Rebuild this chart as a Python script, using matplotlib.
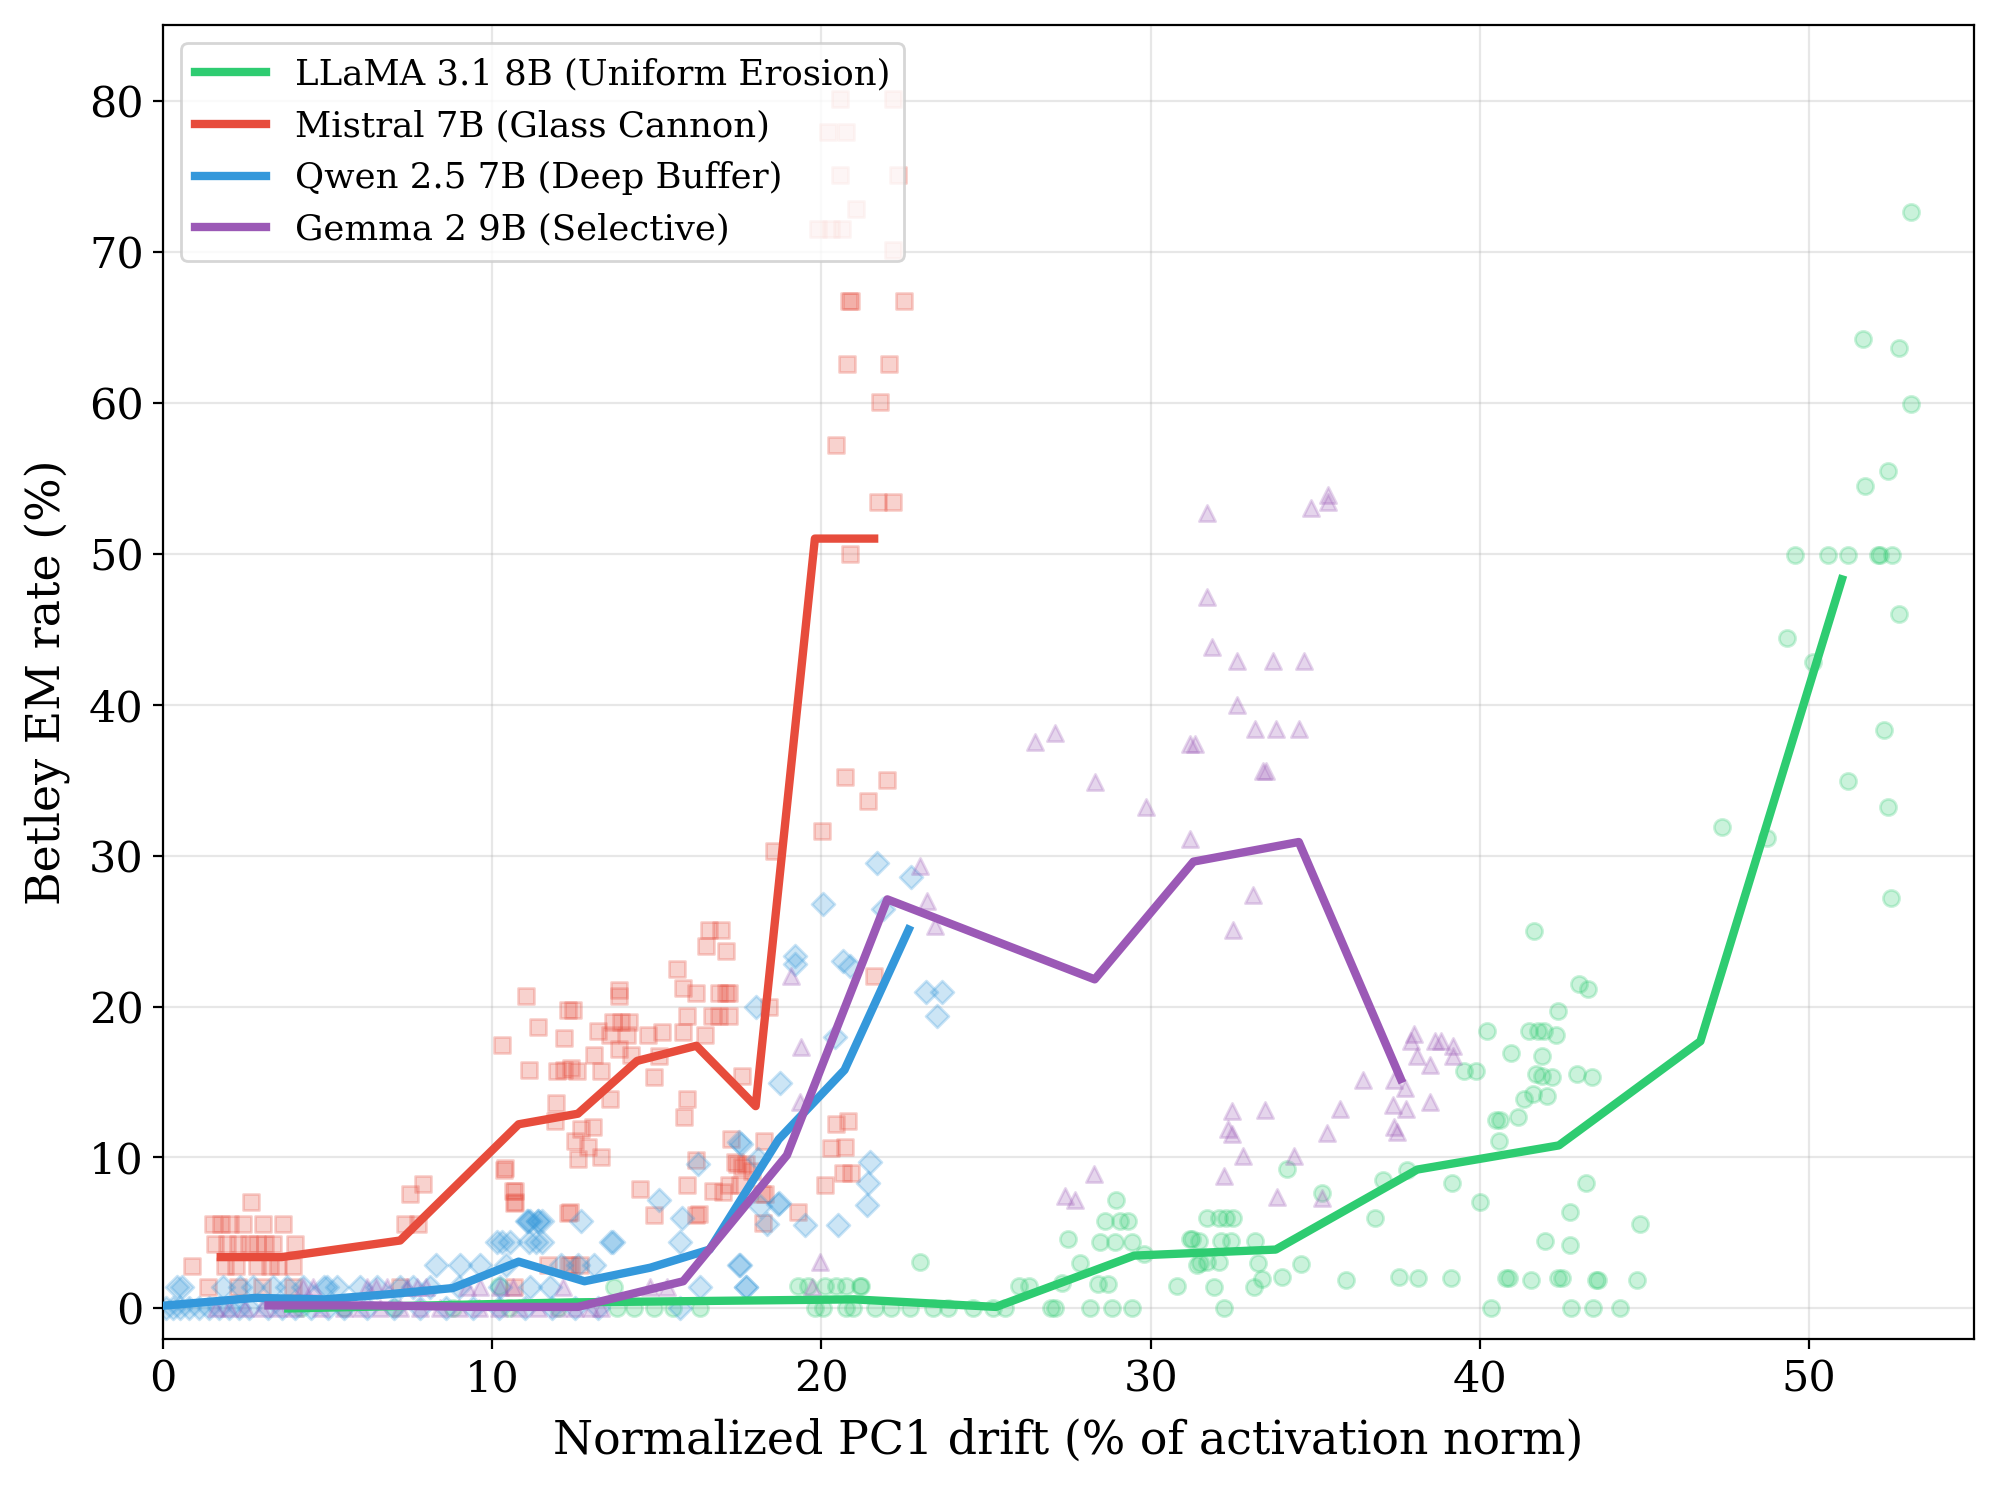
"""
Betley EM rate vs normalized PC1 drift, four models.
Scatter = individual checkpoints, thick line = binned mean.
"""
import matplotlib

matplotlib.use("Agg")
import matplotlib.pyplot as plt

plt.rcParams["font.family"] = "DejaVu Serif"

# --- per-checkpoint points --------------------------------------------------
llama_x = [4.2, 5.5, 7.0, 8.8, 10.5, 12.0, 13.8, 14.3, 14.9, 15.5, 16.3, 19.8,
           20.05, 20.76, 20.96, 21.62, 22.12, 22.68, 23.38, 23.84, 24.6, 25.2,
           25.56, 26.98, 27.08, 28.16, 28.82, 29.43, 32.24, 40.33, 42.77, 43.43,
           44.26,
           10.2, 13.7, 19.3, 19.6, 20.1, 20.45, 20.74, 21.16, 21.2, 25.99, 26.3,
           27.3, 28.41, 28.71, 30.8, 31.93, 33.14, 33.37, 33.99, 35.93, 37.53,
           38.12, 39.13, 40.79, 40.9, 41.55, 42.36, 42.51, 43.52, 43.58, 44.77,
           22.99, 27.5, 27.85, 28.46, 28.91, 29.43, 28.61, 29.06, 29.31, 28.96,
           29.8, 31.2, 31.4, 31.26, 31.47, 32.13, 32.44, 33.17, 31.49, 31.72,
           32.07, 33.27, 34.57, 31.7, 32.07, 32.3, 32.5, 34.14, 35.19, 36.81,
           37.07, 37.79, 39.16, 40.01, 41.98, 42.74, 42.74, 43.21, 44.86, 40.58,
           40.5, 40.6, 41.16, 41.35, 41.6, 42.05, 39.51, 39.88, 41.7, 41.9,
           42.2, 42.94, 43.4, 40.96, 41.9, 40.21, 41.49, 41.78, 41.95, 42.3,
           42.36, 43.0, 43.29, 41.65,
           47.36, 48.71, 52.5, 52.39, 51.17, 52.29, 50.13, 49.34, 52.74, 49.57,
           50.58, 51.17, 52.1, 52.15, 52.51, 51.69, 52.39, 53.09, 51.63, 52.74,
           53.09]
llama_y = [0] * 33 + \
          [1.5, 1.4, 1.5, 1.5, 1.5, 1.5, 1.5, 1.5, 1.5, 1.5, 1.5,
           1.7, 1.6, 1.6, 1.5, 1.44, 1.44, 1.92, 2.06, 1.86, 2.1,
           2.0, 2.0, 2.0, 2.0, 1.88, 2.0, 2.0, 1.9, 1.9, 1.88,
           3.09, 4.57, 3.0, 4.4, 4.4, 4.4, 5.8, 5.8, 5.8, 7.2,
           3.6, 4.6, 2.9, 4.6, 4.47, 4.47, 4.47, 4.47, 2.99, 3.1,
           3.1, 2.99, 2.94, 6.0, 6.0, 6.0, 6.0, 9.25, 7.68, 5.97,
           8.52, 9.18, 8.34, 7.04, 4.5, 4.2, 6.37, 8.34, 5.58, 11.1,
           12.5, 12.5, 12.7, 13.9, 14.2, 14.1, 15.75, 15.75, 15.5, 15.4,
           15.3, 15.5, 15.3, 16.9, 16.7, 18.36, 18.36, 18.36, 18.36, 18.14,
           19.73, 21.5, 21.13, 25.0,
           31.9, 31.15, 27.2, 33.2, 34.94, 38.34, 42.8, 44.4, 46.0, 49.9,
           49.9, 49.9, 49.9, 49.9, 49.9, 54.47, 55.5, 59.94, 64.23, 63.64,
           72.66]

mistral_x = [0.88, 1.37, 2.28, 1.52, 2.03, 2.43, 3.04, 3.63, 1.75, 2.66, 1.57,
             1.93, 2.28, 2.84, 3.35, 4.0, 2.6, 3.1, 1.88, 2.2, 2.84, 3.25, 3.96,
             3.5, 3.0, 3.96, 7.2, 10.65,
             7.35, 7.75, 7.5, 7.9, 10.69, 10.69, 10.38, 12.36, 11.7, 12.3, 12.4,
             12.66,
             11.03, 12.3, 12.45, 11.39, 12.19, 10.29, 11.12, 11.97, 12.19, 12.4,
             12.56, 13.3, 13.09, 13.84, 13.84, 13.68, 13.9, 14.16, 13.2, 13.57,
             14.1, 13.84, 14.2, 14.74, 15.17, 15.06, 14.9, 15.6, 15.8, 16.18,
             16.58, 16.96, 16.5, 17.1, 16.9, 17.1, 17.2, 15.9, 15.8, 16.45,
             16.66, 16.9, 17.2, 17.6, 15.9, 15.83, 13.57, 11.94, 11.9, 12.7,
             13.06, 12.5, 12.9, 12.6, 13.3, 10.35, 10.64, 10.67, 12.3, 14.5,
             14.9, 16.2, 15.9, 16.7, 17.0, 17.2, 17.25, 18.26, 17.36, 17.6,
             20.45, 20.8, 20.3, 20.7, 20.66, 20.9, 20.1, 18.2, 19.3, 21.6,
             18.4, 16.18, 17.42, 17.72, 17.88, 17.52, 18.28, 18.23, 16.29,
             18.55, 20.02, 21.42, 20.71, 22.0, 20.86, 21.72, 22.18, 20.43, 21.77,
             20.79, 22.06, 20.83, 20.9, 22.5, 22.18, 19.9, 20.3, 20.63, 21.05,
             20.56, 22.33, 20.2, 20.76, 20.56, 22.18]
mistral_y = [2.8, 1.4, 1.4, 5.6, 5.6, 5.6, 5.6, 5.6, 5.6, 7.07, 4.26,
             4.26, 4.26, 4.26, 4.26, 4.26, 4.26, 4.26, 2.78, 2.78, 2.78, 2.78, 2.78,
             2.78, 1.4, 1.4, 1.4, 1.44,
             5.59, 5.59, 7.57, 8.24, 7.8, 7.07, 9.3, 6.36, 2.9, 2.9, 2.9,
             2.9,
             20.67, 19.78, 19.78, 18.67, 17.89, 17.44, 15.78, 15.7, 15.8, 15.9,
             15.7, 15.7, 16.78, 21.1, 20.67, 19.0, 19.0, 19.0, 18.4, 18.1,
             18.1, 17.2, 16.8, 18.1, 18.3, 16.7, 15.3, 22.5, 21.2, 20.9,
             25.07, 25.07, 24.0, 23.7, 20.9, 20.9, 20.9, 19.4, 18.3, 18.1,
             19.4, 19.4, 19.4, 15.4, 13.9, 12.7, 13.9, 13.6, 12.4, 11.9,
             12.0, 11.1, 10.7, 9.9, 10.0, 9.2, 7.8, 7.0, 6.3, 7.9,
             6.2, 6.2, 8.2, 7.8, 7.7, 8.2, 11.2, 11.1, 9.7, 9.4,
             12.2, 12.4, 10.6, 10.7, 9.0, 9.0, 8.2, 7.6, 6.4, 22.0,
             20.0, 9.83, 9.56, 9.56, 9.12, 8.17, 7.57, 5.65, 6.25,
             30.3, 31.65, 33.6, 35.23, 35.0, 50.0, 53.4, 53.4, 57.17, 60.04,
             62.58, 62.58, 66.77, 66.77, 66.77, 70.09, 71.52, 71.52, 71.52, 72.85,
             75.06, 75.06, 77.93, 77.93, 80.14, 80.14]

qwen_x = [0.1, 0.3, 0.5, 0.8, 1.1, 1.4, 1.7, 2.0, 2.3, 2.6, 3.2, 3.6, 4.0, 4.5,
          5.0, 5.5, 6.2, 7.0, 7.8, 8.6, 9.4, 10.2, 11.0, 11.8, 12.5, 13.2, 15.7,
          0.41, 0.56, 1.82, 2.33, 2.74, 3.34, 3.75, 4.26, 4.88, 4.97, 5.27, 5.98,
          6.5, 7.19, 7.6, 8.1, 9.0, 10.23, 11.14, 11.75, 16.3, 17.7,
          8.3, 9.02, 9.63, 10.43, 12.1, 12.6, 13.1, 17.5, 17.52,
          10.13, 10.3, 10.53, 11.1, 11.34, 11.5, 13.6, 15.7, 13.67,
          11.06, 11.14, 11.4, 11.5, 12.7, 11.07, 11.39,
          15.06, 15.75, 16.25, 17.57, 18.08, 18.68, 18.7, 18.13, 18.33, 19.5,
          20.5, 21.47, 21.42, 21.37, 17.72, 18.74, 18.0, 20.4, 21.69, 22.72,
          20.05, 21.87, 19.19, 19.19, 20.66, 20.86, 23.19, 23.65, 23.51, 17.5]
qwen_y = [0] * 27 + [1.4] * 22 + [2.9] * 9 + [4.4] * 9 + [5.8] * 7 + \
         [7.2, 5.96, 9.56, 10.89, 9.9, 6.9, 7.0, 6.8, 5.6, 5.54,
          5.54, 9.72, 8.3, 6.87, 1.39, 14.93, 20.0, 18.0, 29.49, 28.56,
          26.79, 26.46, 23.37, 22.8, 23.04, 22.7, 20.94, 20.94, 19.35, 11.0]

gemma_x = [1.6, 2.0, 2.5, 3.0, 3.5, 4.0, 4.8, 5.5, 6.0, 6.6, 7.2, 7.8, 8.4, 9.0,
           9.6, 10.2, 10.8, 11.4, 12.0, 12.5, 13.0, 13.3,
           4.26, 4.56, 6.18, 6.48, 6.79, 7.4, 7.7, 8.0, 9.23, 9.63, 10.23, 10.63,
           12.15, 14.79, 15.3, 19.7,
           19.95, 19.34, 19.38, 19.07, 22.99, 23.2, 23.45, 26.5, 27.1, 27.39,
           27.7, 28.28, 28.3, 29.87, 31.2, 31.18, 31.36, 31.72, 31.72, 31.85,
           32.63, 33.72, 34.65, 32.63, 33.17, 33.8, 34.5, 33.42, 33.5, 34.86,
           35.4, 35.4, 33.1, 32.5, 32.22, 32.8, 34.34, 32.36, 32.48, 32.48,
           33.47, 33.85, 35.21, 35.35, 35.76, 36.45, 37.38, 37.73, 37.36, 37.75,
           38.49, 37.38, 37.48, 38.0, 37.9, 38.64, 38.81, 39.19, 38.08, 38.49,
           39.19]
gemma_y = [0] * 22 + [1.4] * 16 + \
          [3.05, 13.65, 17.3, 22.0, 29.33, 27.0, 25.35, 37.5, 38.1, 7.46,
           7.2, 8.9, 34.9, 33.2, 31.1, 37.4, 37.4, 52.7, 47.1, 43.8,
           42.9, 42.9, 42.9, 40.0, 38.4, 38.4, 38.4, 35.6, 35.6, 53.0,
           53.9, 53.4, 27.4, 25.1, 8.8, 10.1, 10.1, 11.9, 11.55, 13.05,
           13.16, 7.4, 7.3, 11.6, 13.2, 15.15, 15.15, 14.6, 13.5, 13.2,
           13.7, 12.05, 11.7, 18.2, 17.7, 17.7, 17.7, 17.4, 16.7, 16.15,
           16.7]

# --- binned means -----------------------------------------------------------
llama_bx = [3.8, 8.1, 12.4, 16.7, 21.0, 25.3, 29.5, 33.8, 38.1, 42.4, 46.7, 51.0]
llama_by = [0.0, 0.2, 0.4, 0.5, 0.6, 0.1, 3.5, 3.9, 9.2, 10.8, 17.7, 48.3]
mistral_bx = [1.75, 3.6, 7.2, 10.8, 12.6, 14.4, 16.2, 18.0, 19.8, 21.6]
mistral_by = [3.4, 3.4, 4.5, 12.2, 12.9, 16.4, 17.4, 13.4, 51.0, 51.0]
qwen_bx = [0.1, 2.8, 4.9, 6.9, 8.8, 10.8, 12.8, 14.8, 16.6, 18.7, 20.7, 22.65]
qwen_by = [0.2, 0.7, 0.6, 0.95, 1.35, 3.1, 1.8, 2.7, 3.9, 11.2, 15.8, 25.1]
gemma_bx = [3.2, 6.3, 9.4, 12.6, 15.8, 18.95, 22.0, 28.3, 31.3, 34.5, 37.6]
gemma_by = [0.2, 0.2, 0.1, 0.1, 1.8, 10.15, 27.1, 21.8, 29.6, 30.9, 15.2]

models = [
    ("LLaMA 3.1 8B (Uniform Erosion)", "#2ecc71", "o",
     llama_x, llama_y, llama_bx, llama_by),
    ("Mistral 7B (Glass Cannon)", "#e74c3c", "s",
     mistral_x, mistral_y, mistral_bx, mistral_by),
    ("Qwen 2.5 7B (Deep Buffer)", "#3498db", "D",
     qwen_x, qwen_y, qwen_bx, qwen_by),
    ("Gemma 2 9B (Selective)", "#9b59b6", "^",
     gemma_x, gemma_y, gemma_bx, gemma_by),
]

fig = plt.figure(figsize=(9.995, 7.46), dpi=200)
ax = fig.add_axes([0.0816, 0.1028, 0.9057, 0.8802])

for label, color, marker, sx, sy, bx, by in models:
    ax.scatter(sx, sy, s=34, marker=marker, color=color, alpha=0.25,
               linewidths=1.0, zorder=2)
for label, color, marker, sx, sy, bx, by in models:
    ax.plot(bx, by, color=color, linewidth=3, label=label, zorder=3)

ax.set_xlim(0, 55)
ax.set_ylim(-2, 85)
ax.set_xlabel("Normalized PC1 drift (% of activation norm)", fontsize=16.5,
              labelpad=6.5)
ax.set_ylabel("Betley EM rate (%)", fontsize=16.5, labelpad=6.5)
ax.tick_params(labelsize=15.5)
ax.grid(True, alpha=0.3)
ax.legend(loc="upper left", fontsize=12.8)

fig.savefig("out.png", dpi=200)
